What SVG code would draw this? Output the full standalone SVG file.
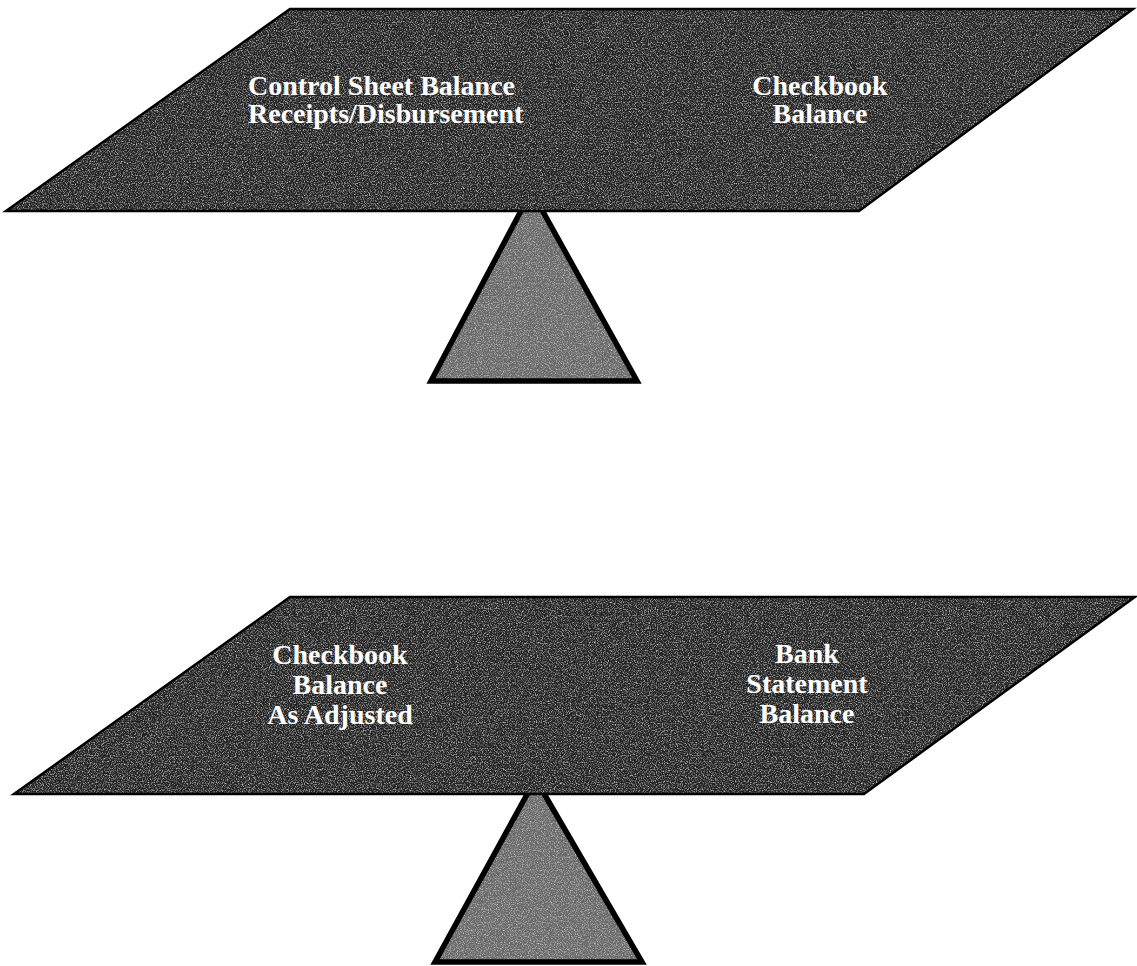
<svg xmlns="http://www.w3.org/2000/svg" width="1137" height="966" viewBox="0 0 1137 966">
<defs>
<style>
.beam{fill:#222;}
.fulc{fill:#686868;}
.beamline{fill:none;stroke:#000;stroke-width:2.5;stroke-linejoin:miter;}
.fulcline{fill:none;stroke:#000;stroke-width:5.5;stroke-linejoin:miter;}
.lbl{font-family:"Liberation Serif","Times New Roman",serif;font-weight:bold;font-size:28px;fill:#fff;}
.c{text-anchor:middle;}
</style>
<filter id="grain" x="0" y="0" width="100%" height="100%" color-interpolation-filters="sRGB">
<feTurbulence type="fractalNoise" baseFrequency="0.85" numOctaves="2" seed="7" result="n"/>
<feColorMatrix in="n" type="matrix" values="0 0 0 0 0.75  0 0 0 0 0.75  0 0 0 0 0.75  2.6 0 0 0 -1.15" result="w"/>
<feComposite in="w" in2="SourceGraphic" operator="in" result="ws"/>
<feMerge><feMergeNode in="SourceGraphic"/><feMergeNode in="ws"/></feMerge>
</filter>
</defs>
<rect width="1137" height="966" fill="#fff"/>

<g id="fulcrum-top">
<polygon class="fulc" filter="url(#grain)" points="531.5,191 637,381 431,381"/>
<polygon class="fulcline" points="531.5,191 637,381 431,381"/>
</g>
<g id="beam-top">
<polygon class="beam" filter="url(#grain)" points="290,9 1133,9 859,211 6,211"/>
<polygon class="beamline" points="290,9 1133,9 859,211 6,211"/>
<text class="lbl" x="248" y="95">Control Sheet Balance</text>
<text class="lbl" x="248" y="123">Receipts/Disbursement</text>
<text class="lbl c" x="820" y="95">Checkbook</text>
<text class="lbl c" x="820" y="123">Balance</text>
</g>

<g id="fulcrum-bottom">
<polygon class="fulc" filter="url(#grain)" points="535.5,779 642,962 435,962"/>
<polygon class="fulcline" points="535.5,779 642,962 435,962"/>
</g>
<g id="beam-bottom">
<polygon class="beam" filter="url(#grain)" points="290,597 1135,597 864,794 14,794"/>
<polygon class="beamline" points="290,597 1135,597 864,794 14,794"/>
<text class="lbl c" x="340" y="664">Checkbook</text>
<text class="lbl c" x="340" y="694">Balance</text>
<text class="lbl c" x="340" y="724">As Adjusted</text>
<text class="lbl c" x="807" y="663">Bank</text>
<text class="lbl c" x="807" y="693">Statement</text>
<text class="lbl c" x="807" y="723">Balance</text>
</g>

<g id="connectors"></g>
</svg>
